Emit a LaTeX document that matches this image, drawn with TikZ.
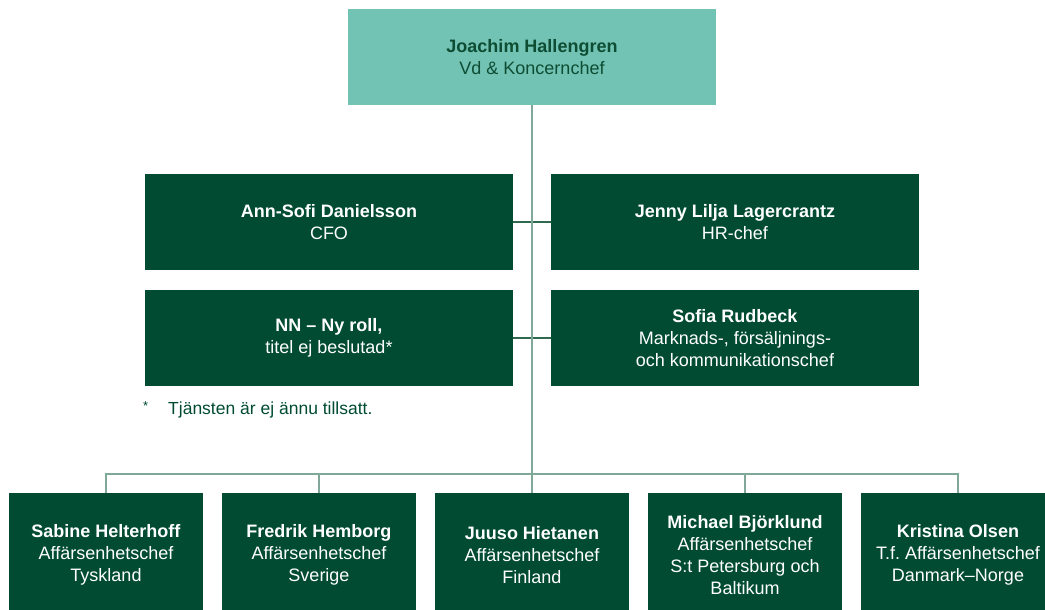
\documentclass[tikz,border=0pt]{standalone}
\usepackage{fontspec}
\setmainfont{Liberation Sans}
\definecolor{dkgreen}{HTML}{004B32}
\definecolor{teal}{HTML}{72C3B4}
\definecolor{toptext}{HTML}{0D4D33}
\definecolor{linegr}{HTML}{7FA898}
\definecolor{midline}{HTML}{2F6A50}
\begin{document}
\begin{tikzpicture}[x=1pt,y=-1pt,
  box/.style={rectangle, fill=dkgreen, text=white, inner sep=0pt, align=center,
    font=\fontsize{18}{22}\selectfont},
  wide/.style={box, minimum width=368pt, minimum height=96pt},
  unit/.style={box, minimum width=194pt, minimum height=124pt},
  topbox/.style={wide, fill=teal, text=toptext},
  vline/.style={draw=linegr, line width=1.6pt},
  hline/.style={draw=midline, line width=1.4pt},
  note/.style={text=dkgreen, inner sep=0pt, font=\fontsize{17.5}{20}\selectfont}]
\useasboundingbox (0,0) rectangle (1045,610);
\node[topbox] (ceo) at (532,57) {\textbf{Joachim Hallengren}\\Vd \& Koncernchef};
\node[wide] (cfo) at (329,222) {\textbf{Ann-Sofi Danielsson}\\CFO};
\node[wide] (hr) at (735,222) {\textbf{Jenny Lilja Lagercrantz}\\HR-chef};
\node[wide] (nn) at (329,338) {\textbf{NN – Ny roll,}\\titel ej beslutad*};
\node[wide] (sofia) at (735,338) {\textbf{Sofia Rudbeck}\\Marknads-, försäljnings-\\och kommunikationschef};
\node[note, anchor=west, font=\fontsize{13}{15}\selectfont] (star) at (143,406) {*};
\node[note, anchor=west] (fn) at (168,410) {Tjänsten är ej ännu tillsatt.};
\node[unit] (b1) at (106,555) {\textbf{Sabine Helterhoff}\\Affärsenhetschef\\Tyskland};
\node[unit] (b2) at (319,555) {\textbf{Fredrik Hemborg}\\Affärsenhetschef\\Sverige};
\node[unit] (b3) at (532,555) {\textbf{Juuso Hietanen}\\Affärsenhetschef\\Finland};
\node[unit] (b4) at (745,555) {\textbf{Michael Björklund}\\Affärsenhetschef\\S:t Petersburg och\\Baltikum};
\node[unit] (b5) at (958,555) {\textbf{Kristina Olsen}\\T.f.\ Affärsenhetschef\\Danmark–Norge};
\coordinate (bus) at (532,474);
\draw[hline] (cfo.east) -- (hr.west);
\draw[hline] (nn.east) -- (sofia.west);
\draw[vline] (ceo.south) -- (b3.north);
\draw[vline] (b1.north) |- (bus) -| (b5.north);
\draw[vline] (b2.north) -- (b2.north |- bus);
\draw[vline] (b4.north) -- (b4.north |- bus);
\end{tikzpicture}
\end{document}
